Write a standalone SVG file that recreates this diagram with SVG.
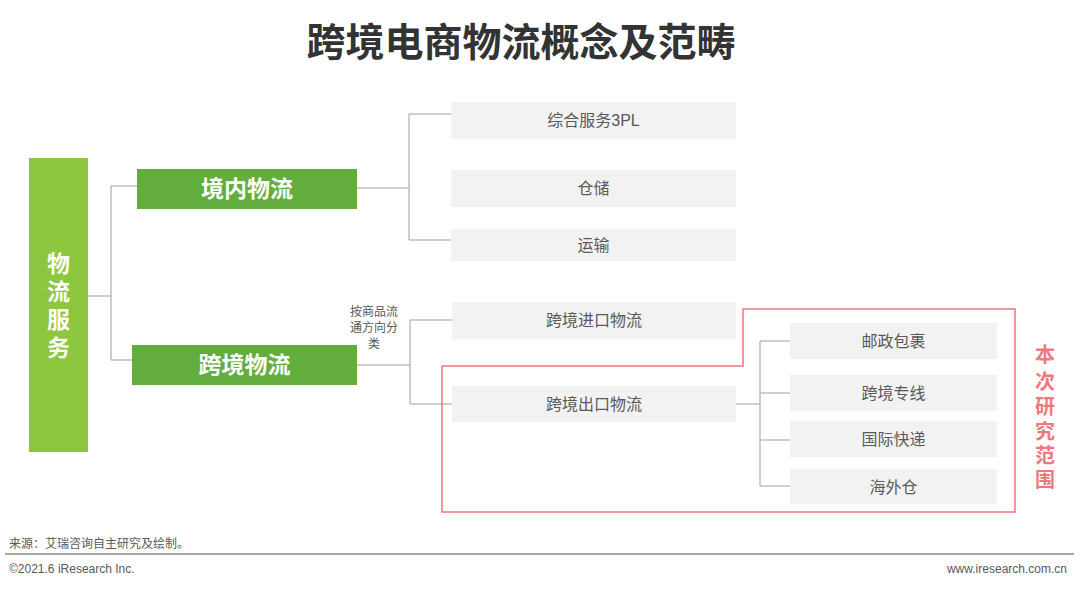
<svg xmlns="http://www.w3.org/2000/svg" width="1080" height="589" viewBox="0 0 1080 589">
<style>
.t{font-family:"Liberation Sans","Noto Sans CJK SC",sans-serif}
.title{font-size:39px;font-weight:bold;fill:#333}
.gbox{fill:#f2f2f2}
.gtxt{font-size:16px;fill:#595959;text-anchor:middle}
.green{fill:#62ad3e}
.wtxt{font-size:23px;font-weight:bold;fill:#fff;text-anchor:middle}
.conn{fill:none;stroke:#bfbfbf;stroke-width:1.5}
.red{fill:none;stroke:#f0787c;stroke-width:1.5}
.rtxt{font-size:20px;font-weight:bold;fill:#f0787c;text-anchor:middle}
.small{font-size:12px;fill:#595959}
</style>
<rect width="1080" height="589" fill="#fff"/>
<text class="t title" x="521" y="56" text-anchor="middle">跨境电商物流概念及范畴</text>

<g id="connectors">
<path class="conn" d="M88 296H111M111 186V360M111 186H137M111 360H132"/>
<path class="conn" d="M357 188H409M409 114V240M409 114H451M409 240H451"/>
<path class="conn" d="M357 365H410M410 320V404M410 320H452M410 404H452"/>
<path class="conn" d="M736 404H760M760 341V486M760 341H790M760 393H790M760 440H790M760 486H790"/>
</g>

<g id="root">
<rect x="29" y="158" width="59" height="294" fill="#8dc63f"/>
<text class="t" x="58.5" font-size="23" font-weight="bold" fill="#fff" text-anchor="middle"><tspan x="58.5" y="272">物</tspan><tspan x="58.5" y="300">流</tspan><tspan x="58.5" y="328">服</tspan><tspan x="58.5" y="356">务</tspan></text>
</g>
<g id="domestic">
<rect class="green" x="137" y="169" width="220" height="40"/>
<text class="t wtxt" x="247" y="197">境内物流</text>
</g>
<g id="crossborder">
<rect class="green" x="132" y="345" width="225" height="40"/>
<text class="t wtxt" x="244.5" y="373">跨境物流</text>
</g>
<g id="n3pl"><rect class="gbox" x="451" y="102" width="285" height="37"/><text class="t gtxt" x="593.5" y="126">综合服务3PL</text></g>
<g id="storage"><rect class="gbox" x="451" y="170" width="285" height="37"/><text class="t gtxt" x="593.5" y="194">仓储</text></g>
<g id="transport"><rect class="gbox" x="451" y="229" width="285" height="32"/><text class="t gtxt" x="593.5" y="251">运输</text></g>
<g id="import"><rect class="gbox" x="452" y="302" width="284" height="37"/><text class="t gtxt" x="594" y="326">跨境进口物流</text></g>
<g id="export"><rect class="gbox" x="452" y="386" width="284" height="36"/><text class="t gtxt" x="594" y="410">跨境出口物流</text></g>
<g id="postal"><rect class="gbox" x="790" y="323" width="207" height="36"/><text class="t gtxt" x="893.5" y="347">邮政包裹</text></g>
<g id="dedicated"><rect class="gbox" x="790" y="375" width="207" height="36"/><text class="t gtxt" x="893.5" y="399">跨境专线</text></g>
<g id="express"><rect class="gbox" x="790" y="421" width="207" height="36"/><text class="t gtxt" x="893.5" y="445">国际快递</text></g>
<g id="overseas"><rect class="gbox" x="790" y="469" width="207" height="35"/><text class="t gtxt" x="893.5" y="493">海外仓</text></g>

<g id="classify-label">
<text class="t small" text-anchor="middle"><tspan x="374" y="316">按商品流</tspan><tspan x="374" y="332">通方向分</tspan><tspan x="374" y="348">类</tspan></text>
</g>

<g id="scope">
<path class="red" d="M442 512V366H743V309H1015V512Z"/>
<text class="t rtxt"><tspan x="1045" y="362">本</tspan><tspan x="1045" y="389">次</tspan><tspan x="1045" y="414">研</tspan><tspan x="1045" y="439">究</tspan><tspan x="1045" y="463">范</tspan><tspan x="1045" y="487">围</tspan></text>
</g>

<g id="footer">
<text class="t small" x="9" y="548">来源：艾瑞咨询自主研究及绘制。</text>
<line x1="5" y1="554" x2="1074" y2="554" stroke="#a6a6a6" stroke-width="2"/>
<text class="t small" x="9" y="573">©2021.6 iResearch Inc.</text>
<text class="t small" x="1067" y="573" text-anchor="end">www.iresearch.com.cn</text>
</g>
</svg>
